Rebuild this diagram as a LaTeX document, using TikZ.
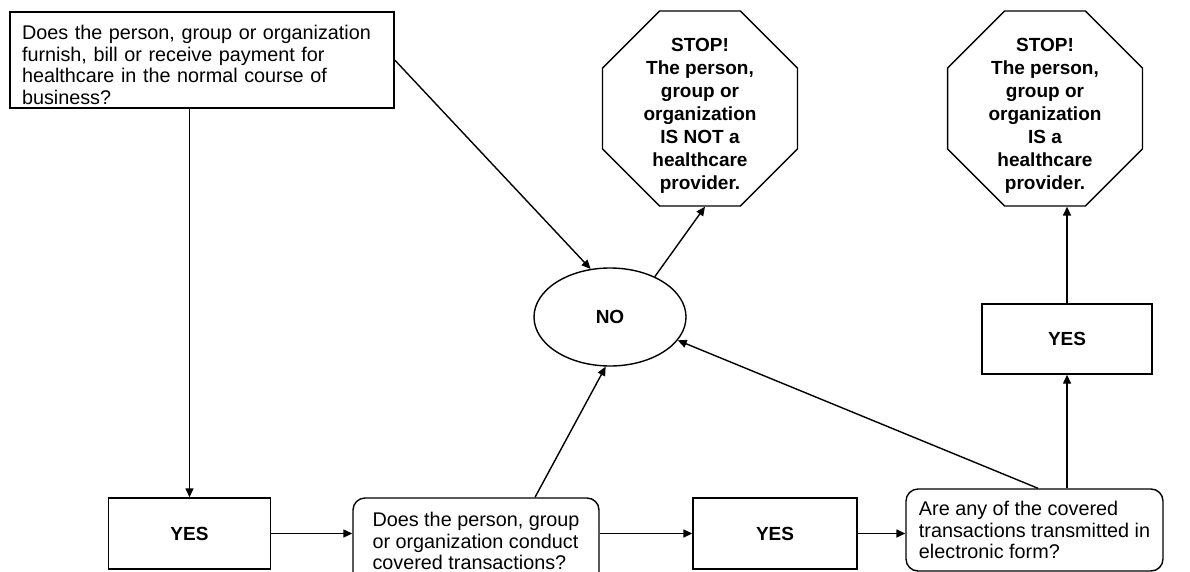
\documentclass[tikz,border=0pt]{standalone}
\usepackage{fontspec}
\setmainfont{Liberation Sans}
\usetikzlibrary{shapes.geometric,arrows.meta}

\begin{document}
\begin{tikzpicture}[x=1pt, y=-1pt,
    every node/.style={font=\fontsize{19.8}{21.5}\selectfont},
    qbox/.style={draw, line width=1.4pt, align=left, inner xsep=12pt, inner ysep=0pt},
    yesbox/.style={draw, line width=1.4pt, font=\bfseries\fontsize{19}{21}\selectfont,
      minimum width=162pt, minimum height=71pt},
    stopsign/.style={regular polygon, regular polygon sides=8, draw, line width=1.4pt,
      minimum size=211pt, inner sep=-20pt, align=center,
      font=\bfseries\fontsize{19}{23}\selectfont},
    arr/.style={-{Triangle[length=9pt,width=8pt]}, line width=1.4pt}]
  \useasboundingbox (0,0) rectangle (1190,572);
  \node[qbox, text width=360pt, minimum height=96pt] (furnish) at (202,60)
    {\rule{0pt}{24.5pt}Does the person, group or organization\\ furnish, bill or receive payment for\\ healthcare in the normal course of\\ business?};
  \node[stopsign] (stopA) at (700,108.5)
    {\rule{0pt}{28pt}STOP!\\ The person,\\ group or\\ organization\\ IS NOT a\\ healthcare\\ provider.};
  \node[stopsign] (stopB) at (1045,108.5)
    {\rule{0pt}{28pt}STOP!\\ The person,\\ group or\\ organization\\ IS a\\ healthcare\\ provider.};
  \node[ellipse, draw, line width=1.4pt, minimum width=152pt, minimum height=98pt,
    font=\bfseries\fontsize{19}{21}\selectfont] (no) at (610,317) {NO};
  \node[yesbox] (yesA) at (189.5,533.5) {YES};
  \node[qbox, rounded corners=12pt, minimum width=246pt, minimum height=86pt] (covered) at (476,541)
    {Does the person, group\\ or organization conduct\\ covered transactions?};
  \node[yesbox, minimum width=164pt] (yesB) at (775,533.5) {YES};
  \node[qbox, rounded corners=12pt, minimum width=257pt, minimum height=82pt] (electronic) at (1034.5,530)
    {Are any of the covered\\ transactions transmitted in\\ electronic form?};
  \node[yesbox, minimum width=170pt, minimum height=70pt] (yesC) at (1067,339) {YES};

  \draw[arr] (furnish.east) -- (no.112);
  \draw[arr] (furnish.south -| yesA.north) -- (yesA.north);
  \draw[arr] (yesA.east) -- (yesA.east -| covered.west);
  \draw[arr] ([xshift=59pt]covered.north) -- (no.265);
  \draw[arr] (yesB.west -| covered.east) -- (yesB.west);
  \draw[arr] (yesB.east) -- (yesB.east -| electronic.west);
  \draw[arr] ([xshift=3.5pt]electronic.north) -- (no.-19);
  \draw[arr] (yesC.south |- electronic.north) -- (yesC.south);
  \draw[arr] (yesC.north) -- (yesC.north |- stopB.south);
  \draw[arr] (no.42) -- ([xshift=5pt]stopA.south);
\end{tikzpicture}
\end{document}
